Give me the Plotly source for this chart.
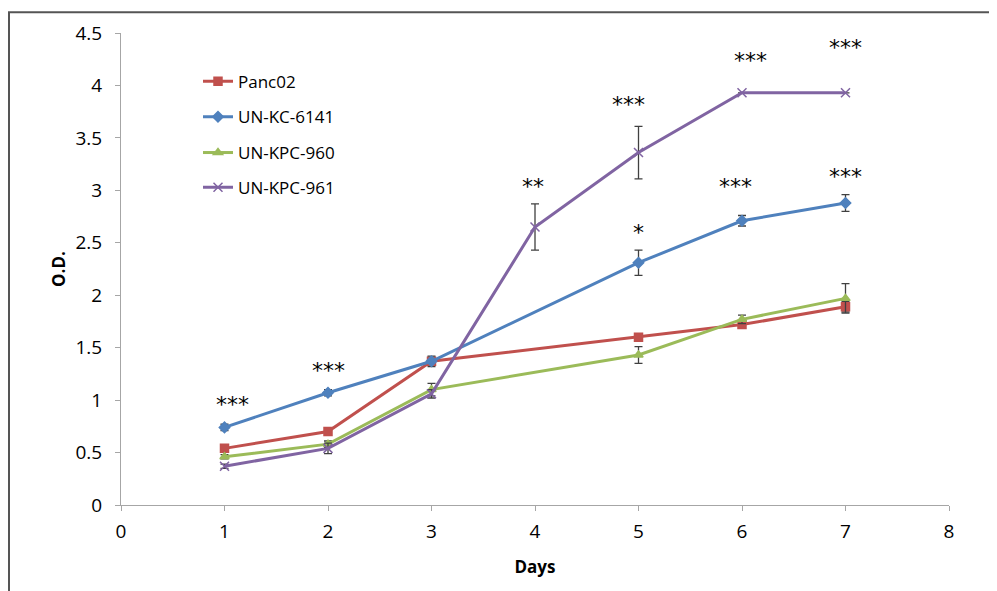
import plotly.graph_objects as go

days = [1, 2, 3, 5, 6, 7]
days_961 = [1, 2, 3, 4, 5, 6, 7]

panc02 = [0.54, 0.70, 1.37, 1.60, 1.72, 1.89]
panc02_err = [0.03, 0.02, 0.03, 0.03, 0.03, 0.05]

kc6141 = [0.74, 1.07, 1.37, 2.31, 2.71, 2.88]
kc6141_err = [0.03, 0.03, 0.05, 0.12, 0.05, 0.08]

kpc960 = [0.46, 0.58, 1.10, 1.43, 1.77, 1.97]
kpc960_err = [0.02, 0.03, 0.06, 0.08, 0.04, 0.14]

kpc961 = [0.37, 0.54, 1.06, 2.65, 3.36, 3.93, 3.93]
kpc961_err = [0.02, 0.05, 0.04, 0.22, 0.25, 0.0, 0.0]

names = ["Panc02", "UN-KC-6141", "UN-KPC-960", "UN-KPC-961"]
colors = ["#C0504D", "#4F81BD", "#9BBB59", "#8064A2"]
symbols = ["square", "diamond", "triangle-up", "x-thin-open"]

# significance marks (label positions)
sig_x = [1.08, 2.0, 3.98, 5.0, 4.90, 6.08, 5.94, 7.0, 7.0]
sig_y = [0.96, 1.28, 3.04, 2.60, 3.82, 4.24, 3.04, 4.36, 3.13]
sig_text = ["***", "***", "**", "*", "***", "***", "***", "***", "***"]

series = [
    (days, panc02, panc02_err),
    (days, kc6141, kc6141_err),
    (days, kpc960, kpc960_err),
    (days_961, kpc961, kpc961_err),
]

# plot area in figure pixels
L, R, T, B = 113, 56, 21, 94
W, H = 997, 591
PW, PH = W - L - R, H - T - B

fig = go.Figure()
legend_keys = ["legend", "legend2", "legend3", "legend4"]
for i, (xs, ys, es) in enumerate(series):
    fig.add_trace(go.Scatter(
        x=xs, y=ys, name=names[i], mode="lines+markers",
        line=dict(color=colors[i], width=3),
        marker=dict(symbol=symbols[i], color=colors[i], size=8 if i != 3 else 9,
                    line=dict(color=colors[i], width=1.5)),
        error_y=dict(type="data", array=es, visible=True, color="#404040",
                     thickness=1.3, width=4),
        legend=legend_keys[i],
    ))

for x, y, t in zip(sig_x, sig_y, sig_text):
    fig.add_annotation(x=x, y=y, text=t, showarrow=False,
                       font=dict(size=22, color="black", family="DejaVu Sans"))

# frame lines around the picture
fig.add_shape(type="line", xref="paper", yref="paper",
              x0=-L / PW, x1=1 + R / PW, y0=1 + T / PH, y1=1 + T / PH,
              line=dict(color="#555555", width=2))
fig.add_shape(type="line", xref="paper", yref="paper",
              x0=-(L - 1) / PW, x1=-(L - 1) / PW, y0=1 + T / PH, y1=-B / PH,
              line=dict(color="#555555", width=2))

leg_common = dict(font=dict(size=17, family="Open Sans", color="black"),
                  bgcolor="rgba(0,0,0,0)", xanchor="left", yanchor="middle",
                  itemwidth=30)
legend_y = [78, 114, 150, 185]
layout_legends = {}
for k, py in zip(legend_keys, legend_y):
    layout_legends[k] = dict(x=(198 - 121) / PW, y=(505 - py) / PH, **leg_common)

fig.update_layout(
    width=W, height=H,
    margin=dict(l=L, r=R, t=T, b=B),
    paper_bgcolor="white", plot_bgcolor="white",
    showlegend=True,
    font=dict(family="Open Sans", size=16, color="black"),
    xaxis=dict(range=[0, 8], tickmode="array", tickvals=list(range(9)),
               showgrid=False, zeroline=False, showline=True,
               linecolor="#a6a6a6", linewidth=1, ticks="outside",
               tickcolor="#a6a6a6", ticklen=5, ticklabelstandoff=4,
               tickfont=dict(size=19, family="Open Sans"),
               title=dict(text="<b>Days</b>", font=dict(size=17, family="Open Sans"), standoff=18)),
    yaxis=dict(range=[0, 4.5], tickmode="array",
               tickvals=[0, 0.5, 1, 1.5, 2, 2.5, 3, 3.5, 4, 4.5],
               ticktext=["0", "0.5", "1", "1.5", "2", "2.5", "3", "3.5", "4", "4.5"],
               showgrid=False, zeroline=False, showline=True,
               linecolor="#a6a6a6", linewidth=1, ticks="outside",
               tickcolor="#a6a6a6", ticklen=5, ticklabelstandoff=9,
               tickfont=dict(size=19, family="Open Sans"),
               title=dict(text="<b>O.D.</b>", font=dict(size=17, family="Open Sans"), standoff=5)),
    **layout_legends,
)

fig.write_html("out.html")
